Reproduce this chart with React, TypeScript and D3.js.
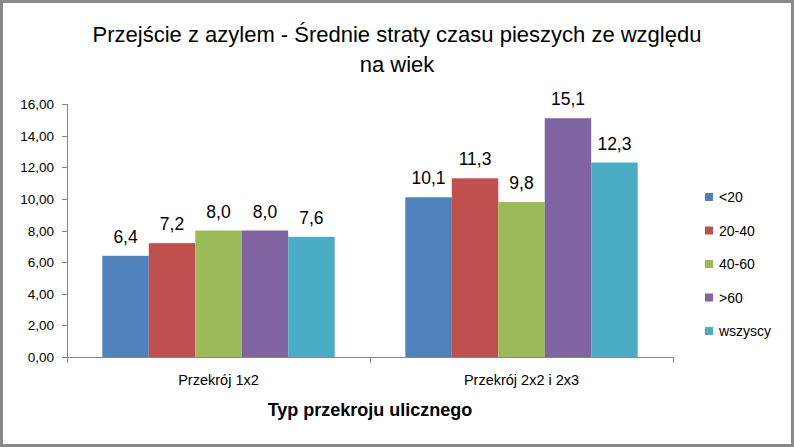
import React from "react";
import * as d3 from "d3";

const categories = ["Przekrój 1x2", "Przekrój 2x2 i 2x3"];
const seriesNames = ["<20", "20-40", "40-60", ">60", "wszyscy"];
const series1x2 = [6.4, 7.2, 8.0, 8.0, 7.6];
const series2x2 = [10.1, 11.3, 9.8, 15.1, 12.3];
const colors = ["#4F81BD", "#C0504D", "#9BBB59", "#8064A2", "#4BACC6"];
const yTicks = [0, 2, 4, 6, 8, 10, 12, 14, 16];
const titleLines = ["Przejście z azylem - Średnie straty czasu pieszych ze względu", "na wiek"];
const xTitle = "Typ przekroju ulicznego";

const W = 794;
const H = 447;
const FONT = "'Liberation Sans', Arial, sans-serif";

export default function App() {
  const values = [series1x2, series2x2];
  const x0 = d3.scaleBand().domain(categories).range([67, 673]).paddingInner(0).paddingOuter(0);
  const x1 = d3
    .scaleBand()
    .domain(seriesNames)
    .range([0, x0.bandwidth()])
    .paddingOuter(0.76)
    .paddingInner(0);
  const y = d3.scaleLinear().domain([0, 16]).range([357, 104]);
  const fmtTick = (v: number) => v.toFixed(2).replace(".", ",");
  const fmtVal = (v: number) => v.toFixed(1).replace(".", ",");
  const axisColor = "#868686";

  return (
    <svg width={W} height={H} style={{ position: "absolute", left: 0, top: 0 }}>
      <rect x={0} y={0} width={W} height={H} fill="#ffffff" />
      <rect x={1.5} y={1.5} width={W - 3} height={H - 3} fill="none" stroke="#898989" strokeWidth={3} />
      {titleLines.map((t, i) => (
        <text key={i} x={397} y={42 + i * 30} textAnchor="middle" fontFamily={FONT} fontSize={22} fill="#000">
          {t}
        </text>
      ))}
      {/* bars */}
      {categories.map((c, ci) => (
        <g key={c} transform={`translate(${x0(c)},0)`}>
          {values[ci].map((v, si) => (
            <g key={si}>
              <rect x={x1(seriesNames[si])} y={y(v)} width={x1.bandwidth()} height={y(0) - y(v)} fill={colors[si]} />
              <text
                x={(x1(seriesNames[si]) as number) + x1.bandwidth() / 2}
                y={y(v) - 13}
                textAnchor="middle"
                fontFamily={FONT}
                fontSize={17.5}
                fill="#000"
              >
                {fmtVal(v)}
              </text>
            </g>
          ))}
        </g>
      ))}
      {/* y axis */}
      <line x1={67.5} x2={67.5} y1={104} y2={357} stroke={axisColor} />
      {yTicks.map((t) => (
        <g key={t}>
          <line x1={62} x2={67.5} y1={Math.round(y(t)) + 0.5} y2={Math.round(y(t)) + 0.5} stroke={axisColor} />
          <text x={54} y={y(t) + 5} textAnchor="end" fontFamily={FONT} fontSize={13.5} fill="#000">
            {fmtTick(t)}
          </text>
        </g>
      ))}
      {/* x axis */}
      <line x1={67} x2={673.5} y1={357.5} y2={357.5} stroke={axisColor} />
      {[0, 1, 2].map((i) => {
        const xx = Math.round(67 + i * x0.bandwidth()) + 0.5;
        return <line key={i} x1={xx} x2={xx} y1={357.5} y2={363} stroke={axisColor} />;
      })}
      {categories.map((c) => (
        <text key={c} x={(x0(c) as number) + x0.bandwidth() / 2} y={385} textAnchor="middle" fontFamily={FONT} fontSize={14.5} fill="#000">
          {c}
        </text>
      ))}
      <text x={370} y={416} textAnchor="middle" fontFamily={FONT} fontSize={18} fontWeight="bold" fill="#000">
        {xTitle}
      </text>
      {/* legend */}
      {seriesNames.map((s, i) => (
        <g key={s} transform={`translate(705,${197 + i * 33.5})`}>
          <rect x={0} y={-4} width={8} height={8} fill={colors[i]} />
          <text x={14} y={5} fontFamily={FONT} fontSize={14} fill="#000">
            {s}
          </text>
        </g>
      ))}
    </svg>
  );
}
